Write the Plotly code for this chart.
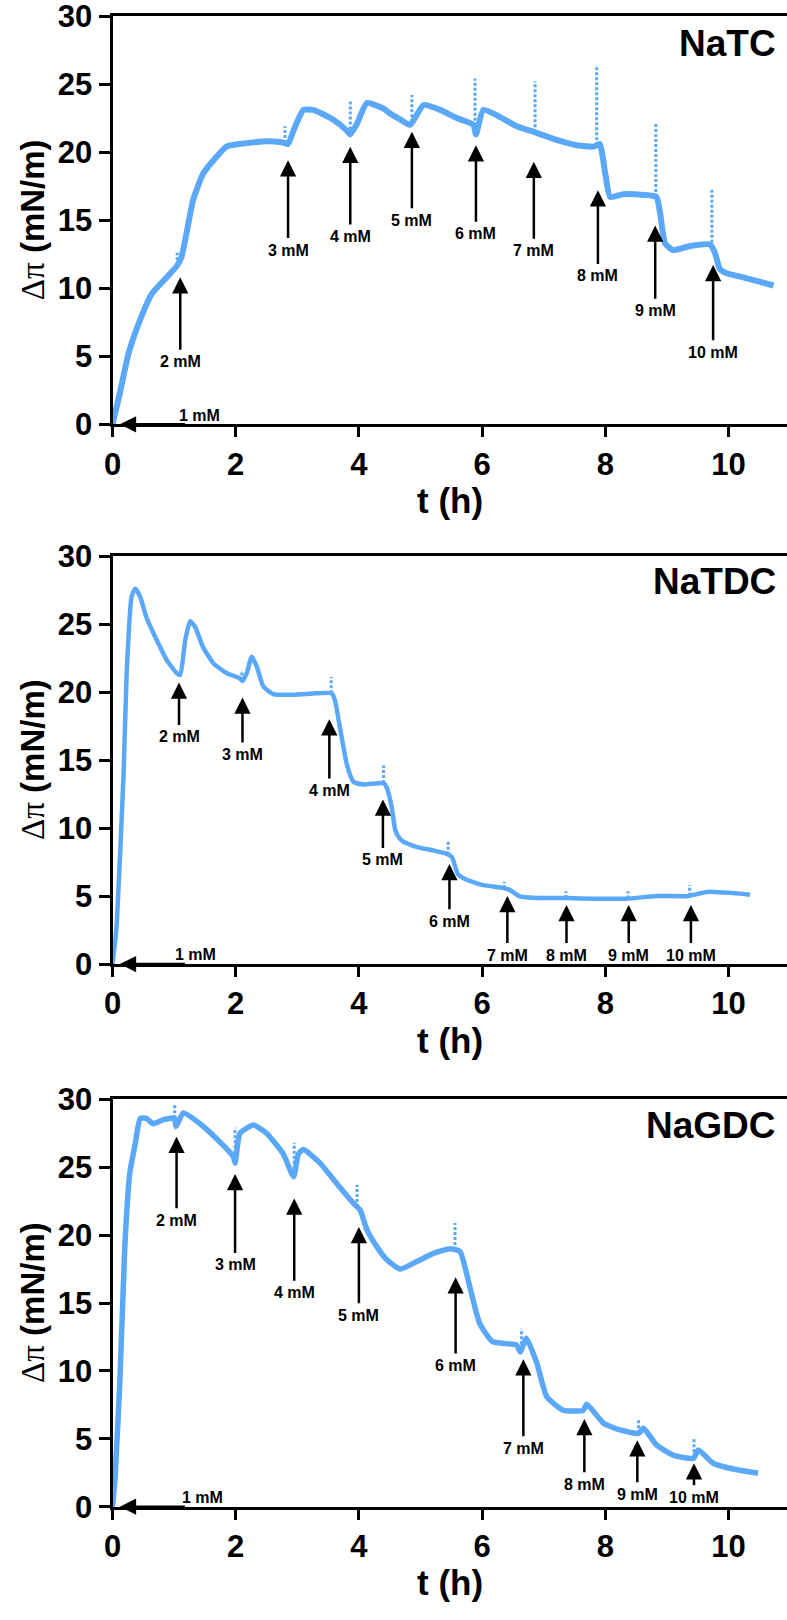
import numpy as np
import plotly.graph_objects as go

# ---------------- data ----------------
# NaTC
natc_t = [0, 0.12, 0.26, 0.45, 0.64, 0.88, 1.04, 1.12, 1.20, 1.31, 1.47, 1.64, 1.85, 2.07, 2.50, 2.77,
          2.85, 2.94, 3.10, 3.26, 3.58, 3.80, 3.86, 3.97, 4.13, 4.40, 4.50, 4.67, 4.83, 5.05, 5.32, 5.59,
          5.86, 5.90, 6.02, 6.24, 6.56, 6.83, 7.21, 7.54, 7.81, 7.91, 8.00, 8.08, 8.29, 8.62, 8.83,
          8.89, 8.97, 9.10, 9.38, 9.70, 9.78, 9.86, 9.97, 10.24, 10.73]
natc_v = [0, 2.3, 5.2, 7.7, 9.6, 10.8, 11.6, 12.3, 14.0, 16.5, 18.4, 19.4, 20.4, 20.6, 20.8, 20.7,
          20.6, 21.6, 23.1, 23.1, 22.4, 21.6, 21.3, 22.1, 23.6, 23.2, 22.85, 22.4, 22.0, 23.46, 23.1, 22.5,
          22.0, 21.3, 23.1, 22.7, 21.9, 21.5, 20.9, 20.5, 20.4, 20.6, 18.4, 16.7, 16.9, 16.85, 16.7,
          15.5, 13.3, 12.8, 13.1, 13.2, 12.6, 11.4, 11.1, 10.8, 10.2]
natc_spike_t = [0.02, 1.05, 2.80, 3.86, 4.86, 5.885, 6.86, 7.86, 8.82, 9.73]
natc_spike_top = [1.2, 12.6, 21.9, 23.8, 24.2, 25.4, 25.2, 26.4, 22.1, 17.3]
natc_arrow_labels = ["2 mM", "3 mM", "4 mM", "5 mM", "6 mM", "7 mM", "8 mM", "9 mM", "10 mM"]
natc_arrow_t = [1.10, 2.85, 3.86, 4.86, 5.90, 6.84, 7.88, 8.81, 9.75]
natc_arrow_head = [10.8, 19.4, 20.4, 21.5, 20.5, 19.3, 17.2, 14.6, 11.7]
natc_arrow_label_v = [4.6, 12.8, 13.8, 15.0, 14.0, 12.75, 10.9, 8.35, 5.3]

# NaTDC
natdc_t = [0, 0.04, 0.07, 0.18, 0.23, 0.31, 0.37, 0.45, 0.55, 0.72, 0.88, 1.04, 1.10, 1.18, 1.26, 1.34,
           1.47, 1.64, 1.85, 2.07, 2.11, 2.18, 2.26, 2.34, 2.45, 2.61, 2.94, 3.31, 3.56, 3.61, 3.69,
           3.80, 3.91, 4.07, 4.40, 4.45, 4.53, 4.59, 4.65, 4.72, 4.94, 5.21, 5.43, 5.51, 5.61, 5.75,
           6.02, 6.34, 6.45, 6.61, 6.94, 7.37, 7.85, 8.35, 8.83, 9.35, 9.65, 10.35]
natdc_v = [0, 1.5, 3.0, 14.0, 21.4, 27.0, 27.6, 27.0, 25.5, 23.8, 22.35, 21.4, 21.25, 23.8, 25.2, 24.8,
           23.3, 22.1, 21.4, 21.0, 20.8, 21.4, 22.6, 21.9, 20.4, 19.85, 19.8, 19.9, 19.9, 19.4, 17.45,
           14.75, 13.4, 13.2, 13.3, 13.0, 11.6, 9.85, 9.3, 9.0, 8.6, 8.35, 8.1, 7.85, 6.6, 6.2,
           5.8, 5.6, 5.45, 4.97, 4.85, 4.85, 4.8, 4.8, 5.0, 5.0, 5.3, 5.1]
natdc_spike_t = [2.10, 3.55, 4.40, 5.45, 6.36, 7.36, 8.37, 9.37]
natdc_spike_top = [21.6, 21.1, 14.6, 9.1, 6.05, 5.35, 5.35, 5.8]
natdc_arrow_labels = ["2 mM", "3 mM", "4 mM", "5 mM", "6 mM", "7 mM", "8 mM", "9 mM", "10 mM"]
natdc_arrow_t = [1.08, 2.11, 3.52, 4.39, 5.47, 6.41, 7.37, 8.38, 9.39]
natdc_arrow_head = [20.7, 19.6, 18.0, 12.1, 7.35, 5.0, 4.34, 4.34, 4.34]
natdc_arrow_label_v = [16.7, 15.4, 12.75, 7.65, 3.15, 0.66, 0.66, 0.66, 0.66]

# NaGDC
nagdc_t = [0, 0.04, 0.12, 0.20, 0.28, 0.37, 0.45, 0.55, 0.66, 0.83, 1.01, 1.03, 1.15, 1.42, 1.69, 1.96,
           1.99, 2.07, 2.29, 2.50, 2.77, 2.94, 3.02, 3.10, 3.37, 3.64, 3.91, 4.02, 4.13, 4.29, 4.45,
           4.67, 4.94, 5.21, 5.48, 5.64, 5.80, 5.96, 6.17, 6.56, 6.62, 6.72, 6.89, 7.05, 7.32, 7.64,
           7.70, 7.97, 8.24, 8.54, 8.62, 8.83, 9.10, 9.43, 9.51, 9.75, 10.02, 10.48]
nagdc_v = [0, 2.0, 9.3, 19.15, 24.55, 26.75, 28.6, 28.6, 28.2, 28.5, 28.6, 28.0, 29.0, 28.2, 27.1, 25.8,
           25.3, 27.5, 28.1, 27.5, 26.0, 24.3, 26.0, 26.3, 25.3, 23.8, 22.35, 21.85, 20.4, 19.15, 18.2,
           17.5, 18.05, 18.65, 19.0, 18.8, 16.2, 13.5, 12.15, 11.9, 11.4, 12.4, 10.55, 8.1, 7.1, 7.1,
           7.55, 6.15, 5.65, 5.4, 5.77, 4.55, 3.8, 3.56, 4.17, 3.2, 2.83, 2.46]
nagdc_spike_t = [1.01, 1.99, 2.95, 3.97, 5.56, 6.64, 8.54, 9.44]
nagdc_spike_top = [29.6, 27.9, 26.8, 23.7, 20.9, 13.1, 6.5, 5.0]
nagdc_arrow_labels = ["2 mM", "3 mM", "4 mM", "5 mM", "6 mM", "7 mM", "8 mM", "9 mM", "10 mM"]
nagdc_arrow_t = [1.04, 1.99, 2.95, 4.00, 5.57, 6.67, 7.66, 8.52, 9.44]
nagdc_arrow_head = [27.25, 24.5, 22.7, 20.6, 16.9, 10.85, 6.45, 4.9, 3.2]
nagdc_arrow_label_v = [21.1, 17.8, 15.75, 14.1, 10.4, 4.3, 1.65, 0.91, 0.69]

panel_names = ["NaTC", "NaTDC", "NaGDC"]
first_label = "1 mM"
first_arrow_head_t = [0.12, 0.12, 0.12]
first_label_t = [1.42, 1.35, 1.46]
first_label_v = [0.63, 0.71, 0.69]
x_ticks = [0, 2, 4, 6, 8, 10]
y_ticks = [0, 5, 10, 15, 20, 25, 30]
x_title = "t (h)"
y_title = '<span style="font-family:\'Liberation Serif\',serif;font-weight:normal">Δπ</span> (mN/m)'

# ---------------- layout geometry ----------------
W, H = 787, 1620
BLUE = "#5aa8f7"
FONT = "Liberation Sans, Arial, sans-serif"
x_left_px = 112.5
x_dom = [x_left_px / W, 1.0]
panel_px = [(16, 424.3), (556, 964), (1099.3, 1506.7)]   # top, bottom in pixels
xtitle_px = [500, 1040, 1582]
name_px = [43, 581.7, 1125]
line_widths = [6, 4.5, 5.5]

panels = [
    (natc_t, natc_v, natc_spike_t, natc_spike_top, natc_arrow_labels, natc_arrow_t, natc_arrow_head, natc_arrow_label_v),
    (natdc_t, natdc_v, natdc_spike_t, natdc_spike_top, natdc_arrow_labels, natdc_arrow_t, natdc_arrow_head, natdc_arrow_label_v),
    (nagdc_t, nagdc_v, nagdc_spike_t, nagdc_spike_top, nagdc_arrow_labels, nagdc_arrow_t, nagdc_arrow_head, nagdc_arrow_label_v),
]

fig = go.Figure()
annotations = []
layout_axes = {}

for i, (t, v, st, stop, labs, at, ah, alv) in enumerate(panels):
    xa = "x" if i == 0 else f"x{i + 1}"
    ya = "y" if i == 0 else f"y{i + 1}"
    xkey = "xaxis" if i == 0 else f"xaxis{i + 1}"
    ykey = "yaxis" if i == 0 else f"yaxis{i + 1}"
    top_px, bot_px = panel_px[i]
    ydom = [1 - bot_px / H, 1 - top_px / H]

    fig.add_trace(go.Scatter(x=t, y=v, mode="lines",
                             line=dict(color=BLUE, width=line_widths[i], shape="spline", smoothing=0.5),
                             xaxis=xa, yaxis=ya, showlegend=False, hoverinfo="skip"))
    base = np.interp(st, t, v)
    sx, sy = [], []
    for tt, b, tp in zip(st, base, stop):
        sx += [tt, tt, None]
        sy += [float(b), tp, None]
    fig.add_trace(go.Scatter(x=sx, y=sy, mode="lines",
                             line=dict(color=BLUE, width=3, dash="3px,2px"),
                             xaxis=xa, yaxis=ya, showlegend=False, hoverinfo="skip"))

    layout_axes[xkey] = dict(domain=x_dom, range=[0, (W - x_left_px) / 61.6], anchor=ya, automargin=False,
                             showline=True, linewidth=3, linecolor="black", mirror=True,
                             ticks="outside", ticklen=10, tickwidth=3, tickcolor="black",
                             tickvals=x_ticks, showgrid=False, zeroline=False, ticklabeloverflow="allow",
                             tickfont=dict(family=FONT, size=31, color="black", weight="bold"))
    layout_axes[ykey] = dict(domain=ydom, range=[0, 30], anchor=xa, automargin=False,
                             showline=True, linewidth=3, linecolor="black",
                             ticks="outside", ticklen=11, tickwidth=3, tickcolor="black",
                             tickvals=y_ticks, showgrid=False, zeroline=False, ticklabeloverflow="allow",
                             tickfont=dict(family=FONT, size=31, color="black", weight="bold"))

    # concentration arrows
    for lab, tt, hv, lv in zip(labs, at, ah, alv):
        annotations.append(dict(x=tt, y=hv, xref=xa, yref=ya, ax=tt, ay=lv, axref=xa, ayref=ya,
                                text=lab, showarrow=True, arrowhead=2, arrowsize=1.3, arrowwidth=2.5,
                                arrowcolor="black", standoff=0, startstandoff=2,
                                font=dict(family=FONT, size=16, color="black", weight="bold")))
    # 1 mM arrow along the x axis
    annotations.append(dict(x=first_arrow_head_t[i], y=0, xref=xa, yref=ya, ax=1.2, ay=0,
                            axref=xa, ayref=ya, text="", showarrow=True, arrowhead=2, arrowsize=1.3,
                            arrowwidth=2.5, arrowcolor="black"))
    annotations.append(dict(x=first_label_t[i], y=first_label_v[i], xref=xa, yref=ya, text=first_label,
                            showarrow=False, font=dict(family=FONT, size=16, color="black", weight="bold")))
    # panel name
    annotations.append(dict(x=778 / W, y=1 - name_px[i] / H, xref="paper", yref="paper",
                            xanchor="right", yanchor="middle", text=panel_names[i], showarrow=False,
                            font=dict(family=FONT, size=37, color="black", weight="bold")))
    # axis titles
    annotations.append(dict(x=(x_left_px + W) / 2 / W, y=1 - xtitle_px[i] / H, xref="paper", yref="paper",
                            xanchor="center", yanchor="middle", text=x_title, showarrow=False,
                            font=dict(family=FONT, size=35, color="black", weight="bold")))
    annotations.append(dict(x=32 / W, y=1 - (top_px + bot_px) / 2 / H, xref="paper", yref="paper",
                            xanchor="center", yanchor="middle", text=y_title, textangle=-90,
                            showarrow=False,
                            font=dict(family=FONT, size=33, color="black", weight="bold")))

fig.update_layout(width=W, height=H, margin=dict(l=0, r=0, t=0, b=0, autoexpand=False),
                  paper_bgcolor="white", plot_bgcolor="white",
                  annotations=annotations, **layout_axes)

fig.write_html("out.html", config={"displayModeBar": False},
               post_script="document.body.style.margin='0';document.body.style.overflow='hidden';")
